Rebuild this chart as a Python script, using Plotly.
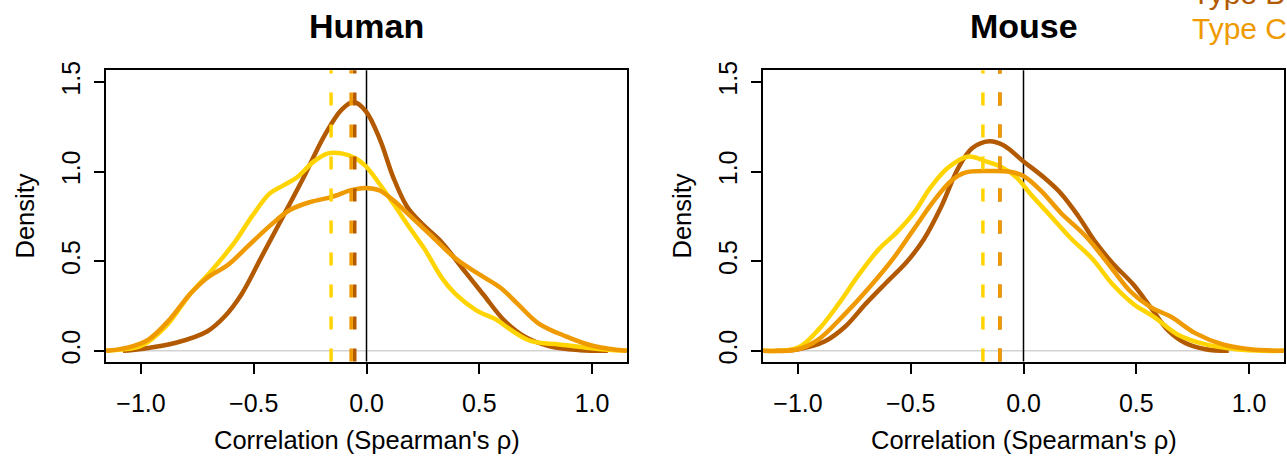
import plotly.graph_objects as go

# Correlation values (Spearman's rho) and kernel density estimates per type
human_a_x = [-1.155, -1.135, -1.0, -0.89, -0.783, -0.69, -0.585, -0.508, -0.43, -0.37, -0.309, -0.233, -0.171, -0.11, -0.049, -0.003, 0.058, 0.119, 0.196, 0.257, 0.334, 0.395, 0.487, 0.578, 0.64, 0.731, 0.854, 0.976, 1.1, 1.155]
human_a_y = [0.0, 0.002, 0.027, 0.136, 0.316, 0.443, 0.605, 0.75, 0.877, 0.922, 0.967, 1.057, 1.102, 1.102, 1.075, 1.03, 0.931, 0.822, 0.678, 0.569, 0.407, 0.316, 0.226, 0.172, 0.117, 0.054, 0.036, 0.018, 0.004, 0.0]

human_b_x = [-1.08, -1.0, -0.845, -0.707, -0.63, -0.554, -0.462, -0.37, -0.279, -0.187, -0.11, -0.057, -0.003, 0.058, 0.119, 0.18, 0.242, 0.334, 0.425, 0.517, 0.609, 0.70, 0.808, 0.946, 1.07]
human_b_y = [0.0, 0.01, 0.045, 0.108, 0.19, 0.316, 0.533, 0.75, 0.967, 1.2, 1.346, 1.388, 1.337, 1.184, 0.967, 0.804, 0.714, 0.605, 0.461, 0.316, 0.172, 0.081, 0.027, 0.004, 0.0]

human_c_x = [-1.155, -1.06, -0.967, -0.875, -0.783, -0.707, -0.615, -0.523, -0.43, -0.34, -0.248, -0.156, -0.064, -0.003, 0.058, 0.119, 0.196, 0.288, 0.395, 0.502, 0.594, 0.67, 0.762, 0.884, 1.007, 1.155]
human_c_y = [0.0, 0.018, 0.063, 0.172, 0.316, 0.407, 0.479, 0.587, 0.696, 0.786, 0.831, 0.858, 0.898, 0.909, 0.895, 0.84, 0.75, 0.642, 0.515, 0.425, 0.352, 0.262, 0.154, 0.081, 0.027, 0.0]

mouse_a_x = [-1.155, -1.0, -0.91, -0.82, -0.73, -0.64, -0.563, -0.487, -0.411, -0.335, -0.244, -0.167, -0.091, -0.03, 0.03, 0.122, 0.213, 0.304, 0.396, 0.487, 0.578, 0.685, 0.807, 0.944, 1.066, 1.155]
mouse_a_y = [0.0, 0.018, 0.117, 0.262, 0.425, 0.569, 0.66, 0.768, 0.913, 1.021, 1.084, 1.057, 1.021, 0.967, 0.877, 0.75, 0.624, 0.515, 0.37, 0.262, 0.19, 0.09, 0.036, 0.009, 0.0, 0.0]

mouse_b_x = [-1.1, -1.0, -0.88, -0.79, -0.70, -0.609, -0.517, -0.441, -0.365, -0.289, -0.228, -0.152, -0.091, 0.0, 0.091, 0.167, 0.244, 0.32, 0.396, 0.487, 0.563, 0.639, 0.715, 0.807, 0.91]
mouse_b_y = [0.0, 0.009, 0.054, 0.136, 0.262, 0.38, 0.497, 0.624, 0.804, 1.021, 1.13, 1.169, 1.148, 1.057, 0.967, 0.877, 0.75, 0.605, 0.488, 0.37, 0.244, 0.117, 0.045, 0.009, 0.0]

mouse_c_x = [-1.155, -1.0, -0.91, -0.79, -0.685, -0.578, -0.487, -0.396, -0.32, -0.259, -0.152, -0.061, 0.0, 0.076, 0.167, 0.274, 0.38, 0.472, 0.563, 0.654, 0.761, 0.883, 1.005, 1.155]
mouse_c_y = [0.0, 0.009, 0.063, 0.208, 0.352, 0.515, 0.678, 0.84, 0.949, 0.994, 1.003, 0.999, 0.976, 0.895, 0.768, 0.642, 0.479, 0.334, 0.244, 0.19, 0.099, 0.036, 0.009, 0.0]

# Median correlation per type (dashed reference lines)
human_medians = {"Type A": -0.157, "Type B": -0.052, "Type C": -0.068}
mouse_medians = {"Type A": -0.18, "Type B": -0.105, "Type C": -0.105}

type_names = ["Type A", "Type B", "Type C"]
type_colors = {"Type A": "#FFD400", "Type B": "#B35A00", "Type C": "#EE9A00"}

panel_titles = ["Human", "Mouse"]
x_ticks = [-1.0, -0.5, 0.0, 0.5, 1.0]
x_tick_text = ["\u22121.0", "\u22120.5", "0.0", "0.5", "1.0"]
y_ticks = [0.0, 0.5, 1.0, 1.5]
y_tick_text = ["0.0", "0.5", "1.0", "1.5"]

W, H = 1287, 463
FONT = "Liberation Sans, Arial, Helvetica, sans-serif"

panels = [
    {"title": panel_titles[0], "curves": {"Type A": (human_a_x, human_a_y), "Type B": (human_b_x, human_b_y), "Type C": (human_c_x, human_c_y)},
     "medians": human_medians, "x0": 106, "x1": 627},
    {"title": panel_titles[1], "curves": {"Type A": (mouse_a_x, mouse_a_y), "Type B": (mouse_b_x, mouse_b_y), "Type C": (mouse_c_x, mouse_c_y)},
     "medians": mouse_medians, "x0": 763, "x1": 1284},
]

y_top_px, y_bot_px = 63, 362
y_dom = [1 - y_bot_px / H, 1 - y_top_px / H]
x_range = [-1.155, 1.155]
y_range = [-0.06, 1.565]

fig = go.Figure()
shapes = []
annotations = []

for i, p in enumerate(panels):
    xa = "x" if i == 0 else "x2"
    ya = "y" if i == 0 else "y2"
    xref_dom = xa + " domain"
    yref_dom = ya + " domain"

    # horizontal baseline at zero density
    shapes.append(dict(type="line", xref=xref_dom, yref=ya, x0=0, x1=1, y0=0, y1=0,
                       line=dict(color="#D3D3D3", width=1.5), layer="below"))
    # vertical line at rho = 0
    shapes.append(dict(type="line", xref=xa, yref=yref_dom, x0=0, x1=0, y0=0, y1=1,
                       line=dict(color="black", width=1.5), layer="below"))

    for name in ["Type B", "Type A", "Type C"]:
        cx, cy = p["curves"][name]
        fig.add_trace(go.Scatter(x=cx, y=cy, mode="lines", name=name, showlegend=False,
                                 line=dict(color=type_colors[name], width=4.5, shape="spline", smoothing=1.0),
                                 xaxis=xa, yaxis=ya, hoverinfo="skip"))

    for name in ["Type A", "Type C", "Type B"] if i == 0 else ["Type A", "Type B", "Type C"]:
        m = p["medians"][name]
        shapes.append(dict(type="line", xref=xa, yref=yref_dom, x0=m, x1=m, y0=0, y1=1,
                           line=dict(color=type_colors[name], width=3.5, dash="13px,19px")))

    cx_px = (p["x0"] + p["x1"]) / 2
    annotations.append(dict(text="<b>%s</b>" % p["title"], x=cx_px / W, y=1 - 17 / H, xref="paper", yref="paper",
                            xanchor="center", yanchor="middle", showarrow=False,
                            font=dict(family=FONT, size=34, color="black")))
    annotations.append(dict(text="Correlation (Spearman's \u03c1)", x=cx_px / W, y=1 - 442 / H, xref="paper", yref="paper",
                            xanchor="center", yanchor="middle", showarrow=False,
                            font=dict(family=FONT, size=25.5, color="black")))
    annotations.append(dict(text="Density", x=(p["x0"] - 81) / W, y=1 - 213 / H, xref="paper", yref="paper",
                            xanchor="center", yanchor="middle", showarrow=False, textangle=-90,
                            font=dict(family=FONT, size=25.5, color="black")))

# colored text legend in the top right corner
legend_center_px = {"Type A": -52, "Type B": -16, "Type C": 20}
for name in type_names:
    annotations.append(dict(text=name, x=1190 / W, y=1 - legend_center_px[name] / H, xref="paper", yref="paper",
                            xanchor="left", yanchor="middle", showarrow=False,
                            font=dict(family=FONT, size=30, color=type_colors[name])))

axis_common = dict(showline=True, mirror=True, linecolor="black", linewidth=2, ticks="outside",
                   ticklen=10, tickwidth=2, tickcolor="black", showgrid=False, zeroline=False,
                   tickfont=dict(family=FONT, size=25, color="black"))

layout = dict(width=W, height=H, margin=dict(l=0, r=0, t=0, b=0),
              paper_bgcolor="white", plot_bgcolor="white", showlegend=False,
              shapes=shapes, annotations=annotations)
for i, p in enumerate(panels):
    sx = "" if i == 0 else "2"
    layout["xaxis" + sx] = dict(domain=[p["x0"] / W, p["x1"] / W], range=x_range, tickvals=x_ticks,
                                ticktext=x_tick_text, anchor="y" + sx, ticklabelstandoff=8, **axis_common)
    layout["yaxis" + sx] = dict(domain=y_dom, range=y_range, tickvals=y_ticks, ticktext=y_tick_text,
                                tickangle=-90, anchor="x" + sx, ticklabelstandoff=4, **axis_common)

fig.update_layout(**layout)
fig.write_html("out.html")
